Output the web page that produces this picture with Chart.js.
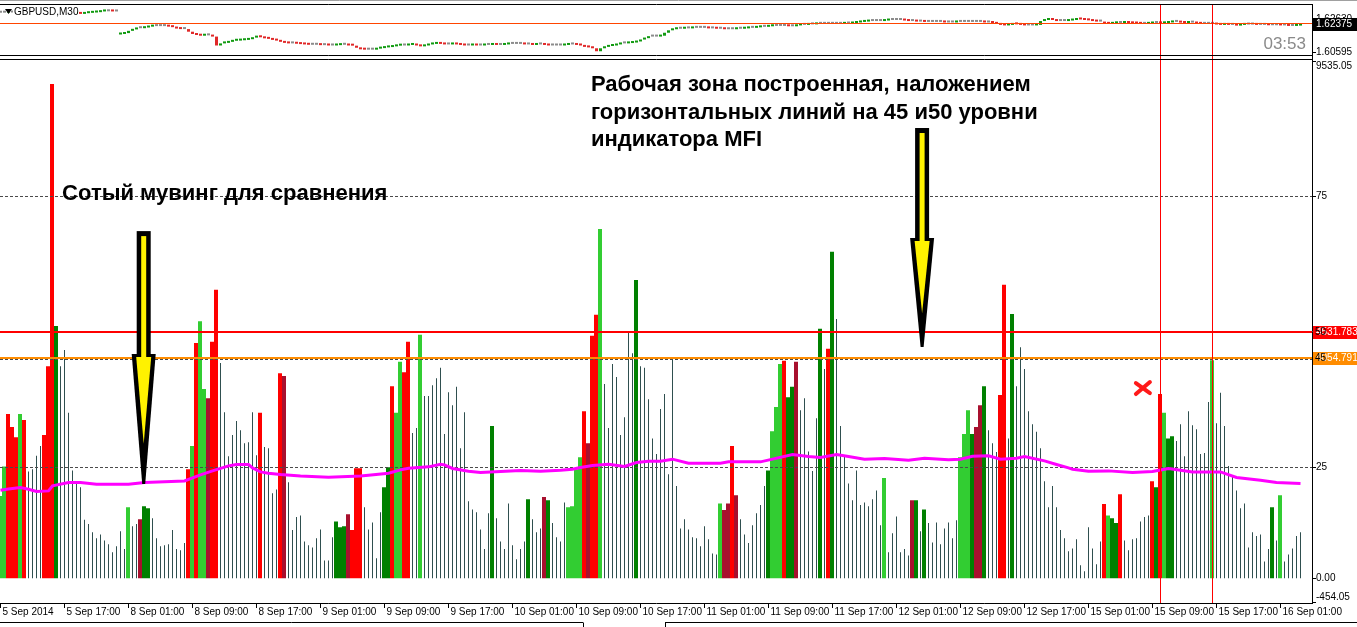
<!DOCTYPE html>
<html>
<head>
<meta charset="utf-8">
<script src="https://cdn.jsdelivr.net/npm/chart.js@4.4.1/dist/chart.umd.min.js"></script>
<style>
  html, body { margin: 0; padding: 0; background: #fff; width: 1357px; height: 627px; overflow: hidden; }
  canvas { position: absolute; left: 0; }
  #priceChart { top: 0; }
  #volChart { top: 59px; }
</style>
</head>
<body>
<canvas id="priceChart" width="1357" height="59"></canvas>
<canvas id="volChart" width="1357" height="568"></canvas>
<script>
// GBPUSD M30, 5 Sep 2014 09:00 .. 16 Sep 2014 ~03:00, one entry per bar

// tick volume per bar
const volumes = [
  1520, 2060, 3030, 2790, 2600, 3030, 2920, 1970, 2010, 2260,
  2440, 2640, 3910, 9110, 4650, 3910, 4210, 3050, 1990, 1750,
  1680, 1080, 1000, 850, 740, 810, 700, 630, 480, 590,
  870, 540, 1310, 960, 1000, 1090, 1330, 1290, 1110, 740,
  590, 610, 630, 890, 540, 520, 650, 2010, 2440, 4340,
  4740, 3490, 3320, 4360, 5320, 3970, 3060, 2250, 2640, 2900,
  2730, 2490, 2510, 3060, 2270, 3050, 2420, 2400, 1570, 1640,
  3780, 3730, 1770, 890, 1130, 1160, 680, 610, 570, 740,
  900, 330, 330, 760, 1050, 940, 960, 1180, 890, 2030,
  2030, 1310, 900, 1030, 370, 1220, 1680, 2050, 3540, 3050,
  3990, 3800, 4360, 2680, 2770, 4490, 3360, 3360, 3560, 3690,
  3880, 2660, 3430, 3190, 3530, 2400, 3060, 1420, 1270, 1220,
  900, 540, 1200, 2810, 1110, 680, 540, 1380, 610, 350,
  540, 680, 1460, 1090, 850, 920, 1500, 1440, 1020, 760,
  680, 1400, 1310, 1330, 2010, 2230, 3080, 2490, 4470, 4860,
  6440, 3580, 2770, 3950, 3710, 2640, 2970, 4560, 4150, 5500,
  3910, 3880, 3300, 2580, 2290, 3120, 3400, 1920, 4060, 1700,
  920, 1090, 900, 760, 740, 590, 960, 720, 460, 440,
  1380, 1260, 1380, 2440, 1530, 1090, 810, 650, 980, 1200,
  1350, 1700, 1990, 2710, 3160, 3950, 4010, 3340, 3530, 3990,
  3100, 3320, 2340, 1980, 2950, 4600, 3860, 4230, 6020, 4780,
  2810, 2250, 1750, 1440, 1990, 1350, 1400, 1330, 1460, 1620,
  980, 1850, 480, 830, 1140, 480, 540, 420, 1440, 1440,
  870, 1270, 1020, 660, 1030, 630, 920, 1030, 740, 1070,
  2230, 2660, 3100, 2660, 2790, 3190, 3540, 2730, 2490, 2330,
  3380, 5410, 2580, 4870, 3540, 4260, 3860, 3080, 2840, 2700,
  2400, 1790, 1310, 1700, 1310, 890, 740, 500, 550, 720,
  240, 130, 940, 550, 260, 680, 1370, 1160, 1110, 1020,
  1550, 700, 520, 720, 740, 1050, 1130, 1160, 1790, 1680,
  3400, 3050, 2580, 2620, 2530, 2840, 2250, 3080, 2820, 2750,
  2290, 2310, 3250, 4020, 2860, 3420, 2810, 2070, 1880, 1620,
  1290, 1380, 570, 850, 780, 810, 310, 540, 1310, 700,
  1530, 310, 440, 550, 780, 850
];

// bar state: n = thin, R = red, D = dark red, L = light green, G = green
const barState = (
  "LLRRRLRnnn" + "nRRRGnnnnn" + "nnnnnnnnnn" + "nnLnnDGGnn" + "nnnnnnnRLR" +
  "LLDRRnnnnn" + "nnnnnRnnnn" + "RDnnnnnnnn" + "nnnnGGGDRR" + "RnnnnnGGRL" +
  "LRRnnLnnnn" + "nnnnnnnnnn" + "nnnGnnnnnn" + "nnGnnnDGnn" + "nnLLLLRDRR" +
  "LnnnnnnnnG" + "nnnnnnnnnn" + "nnnnnnnnnn" + "LDDRDnnnnn" + "nnGLLLRGGD" +
  "nnnnnGnRGn" + "nnnnnnnnnn" + "nLnnnnnnDG" + "nGnnnnnnnn" + "LLLGDDGnnn" +
  "RRnGnnnnnn" + "nnnnnnnnnn" + "nnnnnnRLGG" + "RnnnnnnnRG" + "RLGGnnnnnn" +
  "nnnLnnnnnn" + "nnnnnnnnGn" + "Lnnnnn"
).split("");

// 100-period moving average of volume, read at these bars
const maBars = [0, 2, 5, 7, 9, 12, 13, 17, 20, 24, 32, 36, 46, 50, 53, 57, 59, 62, 63, 65,
  67, 70, 75, 82, 90, 92, 97, 100, 102, 107, 110, 111, 113, 117, 120, 125, 130, 135, 140, 143,
  145, 148, 152, 156, 159, 162, 165, 168, 172, 180, 182, 190, 193, 198, 202, 205, 209, 212, 216, 221,
  227, 231, 237, 240, 243, 247, 250, 254, 256, 261, 264, 267, 268, 272, 277, 283, 288, 292, 298, 305,
  309, 315, 319, 325];
const maValues = [1625, 1648, 1674, 1643, 1600, 1612, 1704, 1767, 1767, 1735, 1735, 1767, 1796, 1907, 1981, 2073, 2099, 2099, 2036, 1962,
  1938, 1914, 1888, 1864, 1888, 1901, 1938, 1999, 2031, 2055, 2104, 2092, 2025, 1975, 1951, 1970, 1988, 1975, 1994, 2012,
  2044, 2080, 2104, 2062, 2136, 2160, 2160, 2197, 2123, 2123, 2147, 2147, 2197, 2283, 2247, 2228, 2283, 2247, 2197, 2210,
  2178, 2215, 2184, 2197, 2252, 2258, 2197, 2215, 2247, 2165, 2099, 2036, 2012, 1975, 1981, 1951, 1970, 2025, 1962, 1962,
  1859, 1809, 1767, 1748];

// close prices per bar
const closes = [
  1.6302, 1.6302, 1.6303, 1.6303, 1.6302, 1.6301, 1.6302, 1.6303, 1.6302, 1.6301,
  1.6299, 1.6299, 1.6301, 1.6302, 1.6301, 1.6299, 1.6297, 1.6296, 1.6296, 1.6297,
  1.6295, 1.6299, 1.6301, 1.6303, 1.6305, 1.6309, 1.6310, 1.6310, 1.6309, 1.6309,
  1.6180, 1.6185, 1.6198, 1.6206, 1.6213, 1.6213, 1.6217, 1.6222, 1.6225, 1.6225,
  1.6225, 1.6225, 1.6222, 1.6219, 1.6211, 1.6208, 1.6208, 1.6193, 1.6180, 1.6174,
  1.6170, 1.6172, 1.6172, 1.6165, 1.6114, 1.6126, 1.6129, 1.6135, 1.6141, 1.6142,
  1.6144, 1.6146, 1.6150, 1.6159, 1.6167, 1.6161, 1.6155, 1.6152, 1.6146, 1.6142,
  1.6135, 1.6129, 1.6126, 1.6126, 1.6124, 1.6122, 1.6120, 1.6118, 1.6118, 1.6118,
  1.6116, 1.6116, 1.6114, 1.6114, 1.6116, 1.6118, 1.6118, 1.6114, 1.6113, 1.6101,
  1.6092, 1.6090, 1.6090, 1.6090, 1.6096, 1.6099, 1.6103, 1.6105, 1.6109, 1.6113,
  1.6114, 1.6114, 1.6117, 1.6120, 1.6114, 1.6109, 1.6114, 1.6120, 1.6123, 1.6126,
  1.6123, 1.6120, 1.6120, 1.6123, 1.6120, 1.6117, 1.6114, 1.6114, 1.6117, 1.6114,
  1.6114, 1.6117, 1.6117, 1.6120, 1.6117, 1.6117, 1.6120, 1.6123, 1.6123, 1.6123,
  1.6123, 1.6120, 1.6120, 1.6117, 1.6120, 1.6120, 1.6117, 1.6114, 1.6114, 1.6114,
  1.6114, 1.6117, 1.6120, 1.6120, 1.6117, 1.6114, 1.6106, 1.6103, 1.6098, 1.6081,
  1.6098, 1.6106, 1.6111, 1.6114, 1.6120, 1.6126, 1.6126, 1.6128, 1.6131, 1.6137,
  1.6148, 1.6156, 1.6165, 1.6165, 1.6165, 1.6170, 1.6187, 1.6201, 1.6207, 1.6210,
  1.6210, 1.6212, 1.6212, 1.6215, 1.6215, 1.6215, 1.6215, 1.6212, 1.6212, 1.6210,
  1.6210, 1.6207, 1.6207, 1.6207, 1.6210, 1.6210, 1.6212, 1.6215, 1.6215, 1.6218,
  1.6221, 1.6221, 1.6224, 1.6226, 1.6226, 1.6226, 1.6226, 1.6224, 1.6224, 1.6229,
  1.6232, 1.6232, 1.6235, 1.6235, 1.6238, 1.6238, 1.6238, 1.6238, 1.6238, 1.6238,
  1.6238, 1.6240, 1.6240, 1.6243, 1.6246, 1.6249, 1.6251, 1.6254, 1.6254, 1.6254,
  1.6254, 1.6257, 1.6260, 1.6260, 1.6260, 1.6260, 1.6257, 1.6254, 1.6254, 1.6251,
  1.6251, 1.6249, 1.6249, 1.6249, 1.6249, 1.6249, 1.6246, 1.6246, 1.6246, 1.6249,
  1.6249, 1.6249, 1.6249, 1.6249, 1.6249, 1.6249, 1.6246, 1.6246, 1.6243, 1.6238,
  1.6232, 1.6229, 1.6232, 1.6238, 1.6235, 1.6232, 1.6229, 1.6229, 1.6229, 1.6232,
  1.6254, 1.6260, 1.6262, 1.6260, 1.6254, 1.6254, 1.6254, 1.6257, 1.6260, 1.6267,
  1.6263, 1.6260, 1.6258, 1.6254, 1.6251, 1.6251, 1.6239, 1.6238, 1.6241, 1.6243,
  1.6243, 1.6245, 1.6243, 1.6241, 1.6240, 1.6238, 1.6238, 1.6240, 1.6243, 1.6243,
  1.6241, 1.6243, 1.6246, 1.6249, 1.6249, 1.6245, 1.6243, 1.6245, 1.6245, 1.6240,
  1.6238, 1.6238, 1.6238, 1.6238, 1.6234, 1.6232, 1.6234, 1.6232, 1.6232, 1.6228,
  1.6232, 1.6234, 1.6234, 1.6234, 1.6232, 1.6232, 1.6232, 1.6230, 1.6230, 1.6230,
  1.6229, 1.6229, 1.6226, 1.6226, 1.6228, 1.62375
];
// opening price after the weekend gap (first bar of 8 Sep)
const gapOpens = { 30: 1.6177 };

const xTickBars = [0, 16, 32, 48, 64, 80, 96, 112, 128, 144, 160, 176, 192, 208, 224, 240, 256, 272, 288, 304, 320];
const xTickLabels = ["5 Sep 2014", "5 Sep 17:00", "8 Sep 01:00", "8 Sep 09:00", "8 Sep 17:00", "9 Sep 01:00",
  "9 Sep 09:00", "9 Sep 17:00", "10 Sep 01:00", "10 Sep 09:00", "10 Sep 17:00", "11 Sep 01:00", "11 Sep 09:00",
  "11 Sep 17:00", "12 Sep 01:00", "12 Sep 09:00", "12 Sep 17:00", "15 Sep 01:00", "15 Sep 09:00", "15 Sep 17:00",
  "16 Sep 01:00"];

const volTickValues = [9535.05, 7037.8, 2043.2, 0, -454.05];
const volTickLabels = ["9535.05", "75", "25", "0.00", "-454.05"];
const levelValues = [7037.8, 4540.5, 4041.0, 2043.2]; // MFI 75 / 50 / 45 / 25
const hLineValues = [4531.783, 4054.791];
const hLineLabels = ["4531.783", "4054.791"];
const hLineLevels = ["50", "45"];
const vLineBars = [290, 303];

const priceTickValues = [1.6263, 1.60595];
const priceTickLabels = ["1.62630", "1.60595"];
const bidPrice = 1.62375;

// annotations (bar position, values)
const arrowBars = [35.8, 230.4];
const arrowTop = [6400, 8300];
const arrowHead = [4135, 6273];
const arrowTip = [1740, 4264];
const crossMark = { bar: 285.6, value: 3508 };
const noteLeft = { bar: 15.4, values: [7084], lines: ["Сотый мувинг для сравнения"] };
const noteRight = { bar: 147.6, values: [9093, 8577, 8079], lines: [
  "Рабочая зона построенная, наложением",
  "горизонтальных линий на 45 и50 уровни",
  "индикатора MFI"] };

// ---------------------------------------------------------------

const stateColors = { R: "#ff0000", D: "#a8102e", L: "#32cd32", G: "#008000", n: "#2f4f4f" };
const LABEL_FONT = '10px "Liberation Sans", Arial, sans-serif';

function pointsFor(code) {
  const pts = [];
  volumes.forEach((v, i) => { if (barState[i] === code) pts.push({ x: i, y: v }); });
  return pts;
}

function hline(ctx, x0, x1, y) { ctx.beginPath(); ctx.moveTo(x0, y); ctx.lineTo(x1, y); ctx.stroke(); }
function vline(ctx, x, y0, y1) { ctx.beginPath(); ctx.moveTo(x, y0); ctx.lineTo(x, y1); ctx.stroke(); }

function drawArrow(ctx, cx, yTop, yHead, yTip) {
  ctx.fillStyle = "#000";
  ctx.fillRect(cx - 7, yTop, 14, yHead - yTop + 2);
  ctx.beginPath();
  ctx.moveTo(cx - 12, yHead);
  ctx.lineTo(cx + 12, yHead);
  ctx.lineTo(cx + 1.5, yTip);
  ctx.lineTo(cx - 1.5, yTip);
  ctx.closePath();
  ctx.fill();
  ctx.fillStyle = "#fff200";
  ctx.fillRect(cx - 2.5, yTop + 5, 5, yHead - yTop);
  ctx.beginPath();
  ctx.moveTo(cx - 7.5, yHead + 3);
  ctx.lineTo(cx + 7.5, yHead + 3);
  ctx.lineTo(cx, yHead + (yTip - yHead) * 0.69);
  ctx.closePath();
  ctx.fill();
}

const shiftedBars = [1, 2, 3, 4];

const volDecor = {
  id: "volDecor",
  beforeDatasetDraw(chart, args) {
    const { ctx, chartArea: a, scales: { y } } = chart;
    if (shiftedBars.includes(args.index)) {
      ctx.save();
      ctx.translate(-0.5, 0);
    }
    if (args.index === 0) {
      ctx.save();
      ctx.strokeStyle = "#4a4a4a";
      ctx.lineWidth = 1;
      ctx.setLineDash([3, 2]);
      levelValues.forEach(v => hline(ctx, a.left, a.right, Math.floor(y.getPixelForValue(v)) + 0.5));
      ctx.restore();
    }
  },
  afterDatasetDraw(chart, args) {
    if (shiftedBars.includes(args.index)) chart.ctx.restore();
  },
  afterDatasetsDraw(chart) {
    const { ctx, chartArea: a, scales: { x, y } } = chart;
    ctx.save();
    ctx.lineWidth = 2;
    ["#ff0000", "#ff8c00"].forEach((c, i) => {
      ctx.strokeStyle = c;
      hline(ctx, a.left, a.right, Math.round(y.getPixelForValue(hLineValues[i])));
    });
    ctx.lineWidth = 1;
    ctx.strokeStyle = "#ff0000";
    vLineBars.forEach(b => vline(ctx, Math.floor(x.getPixelForValue(b)) + 0.5, 0, a.bottom));

    arrowBars.forEach((b, i) => {
      drawArrow(ctx, x.getPixelForValue(b), y.getPixelForValue(arrowTop[i]),
        y.getPixelForValue(arrowHead[i]), y.getPixelForValue(arrowTip[i]));
    });

    const cx = x.getPixelForValue(crossMark.bar), cy = y.getPixelForValue(crossMark.value);
    ctx.strokeStyle = "#ff1a1a";
    ctx.lineWidth = 4;
    ctx.lineCap = "round";
    ctx.beginPath();
    ctx.moveTo(cx - 7, cy - 5); ctx.lineTo(cx + 7, cy + 5);
    ctx.moveTo(cx + 7, cy - 6); ctx.lineTo(cx - 7, cy + 6);
    ctx.stroke();

    ctx.fillStyle = "#000";
    ctx.font = 'bold 22px "Liberation Sans", Arial, sans-serif';
    ctx.textBaseline = "middle";
    ctx.textAlign = "left";
    [noteLeft, noteRight].forEach(n => {
      n.lines.forEach((t, i) => ctx.fillText(t, x.getPixelForValue(n.bar), y.getPixelForValue(n.values[i])));
    });
    ctx.restore();
  },
  afterDraw(chart) {
    const { ctx, chartArea: a, scales: { x, y } } = chart;
    ctx.save();
    ctx.strokeStyle = "#000";
    ctx.lineWidth = 1;
    hline(ctx, 0, a.right + 1, a.top - 1.5);
    hline(ctx, 0, a.right + 1, a.bottom + 0.5);
    vline(ctx, a.right + 0.5, 0, a.bottom + 1);

    ctx.font = LABEL_FONT;
    ctx.fillStyle = "#000";
    ctx.textBaseline = "middle";
    ctx.textAlign = "left";
    volTickValues.forEach((v, i) => {
      const py = y.getPixelForValue(v);
      hline(ctx, a.right + 1, a.right + 4, Math.min(Math.floor(py), a.bottom - 1) + 0.5);
      ctx.fillText(volTickLabels[i], a.right + 4, Math.min(Math.max(py, a.top + 5), a.bottom - 6));
    });

    ["#ff0000", "#ff8c00"].forEach((c, i) => {
      const py = Math.round(y.getPixelForValue(hLineValues[i]));
      ctx.fillStyle = c;
      ctx.fillRect(a.right + 1, py - 6, chart.width - a.right - 1, 13);
      ctx.fillStyle = "#fff";
      ctx.fillText(hLineLabels[i], a.right + 4, py + 0.5);
      ctx.fillStyle = "#000";
      ctx.fillText(hLineLevels[i], a.right + 3, py + 0.5);
    });

    ctx.fillStyle = "#000";
    xTickBars.forEach((b, i) => {
      const px = Math.floor(x.getPixelForValue(b)) + 0.5;
      vline(ctx, px, a.bottom + 1, a.bottom + 5);
      ctx.fillText(xTickLabels[i], px + 2, a.bottom + 9.5);
    });

    const by = chart.height - 4.5;
    hline(ctx, 0, 583, by);
    hline(ctx, 665, chart.width, by);
    vline(ctx, 583.5, by, chart.height);
    vline(ctx, 665.5, by, chart.height);
    ctx.restore();
  }
};

const priceDecor = {
  id: "priceDecor",
  afterDatasetsDraw(chart) {
    const { ctx, chartArea: a, scales: { x, y } } = chart;
    ctx.save();
    ctx.lineWidth = 1;
    ctx.strokeStyle = "#ff4500";
    hline(ctx, a.left, a.right, Math.floor(y.getPixelForValue(bidPrice)) + 0.5);
    ctx.strokeStyle = "#ff0000";
    vLineBars.forEach(b => vline(ctx, Math.floor(x.getPixelForValue(b)) + 0.5, a.top, chart.height));
    ctx.restore();
  },
  afterDraw(chart) {
    const { ctx, chartArea: a, scales: { y } } = chart;
    ctx.save();
    ctx.strokeStyle = "#a0a0a0";
    ctx.lineWidth = 1;
    hline(ctx, 0, chart.width, 0.5);
    ctx.strokeStyle = "#000";
    hline(ctx, 0, a.right + 1, a.top - 0.5);
    hline(ctx, 0, a.right + 1, a.bottom + 0.5);
    vline(ctx, a.right + 0.5, a.top - 1, chart.height);

    // symbol caption
    ctx.fillStyle = "#fff";
    ctx.fillRect(13, 6, 64, 13);
    ctx.fillStyle = "#000";
    ctx.beginPath();
    ctx.moveTo(5, 9); ctx.lineTo(12, 9); ctx.lineTo(8.5, 14); ctx.closePath();
    ctx.fill();
    ctx.font = LABEL_FONT;
    ctx.textBaseline = "middle";
    ctx.textAlign = "left";
    ctx.fillText("GBPUSD,M30", 14, 12.5);

    priceTickValues.forEach((v, i) => {
      const py = y.getPixelForValue(v);
      const ly = Math.min(Math.max(py, a.top + 5), a.bottom - 3);
      hline(ctx, a.right + 1, a.right + 4, Math.floor(ly) + 0.5);
      ctx.fillText(priceTickLabels[i], a.right + 4, ly);
    });
    const bp = Math.round(y.getPixelForValue(bidPrice));
    ctx.fillStyle = "#000";
    ctx.fillRect(a.right + 1, bp - 6, chart.width - a.right - 1, 13);
    ctx.fillStyle = "#fff";
    ctx.fillText(bidPrice.toFixed(5), a.right + 4, bp + 0.5);

    ctx.fillStyle = "#8a8a8a";
    ctx.font = '17px "Liberation Sans", Arial, sans-serif';
    ctx.textAlign = "right";
    ctx.textBaseline = "alphabetic";
    ctx.fillText("03:53", 1306, 49);
    ctx.restore();
  }
};

// ---- price window (candle bodies) ----
const candleUp = [], candleDown = [], candleFlat = [];
closes.forEach((c, i) => {
  const o = gapOpens[i] !== undefined ? gapOpens[i] : (i === 0 ? c : closes[i - 1]);
  const p = { x: i, y: [o, c] };
  if (c > o + 1e-9) candleUp.push(p);
  else if (c < o - 1e-9) candleDown.push(p);
  else candleFlat.push(p);
});

const xScale = { type: "linear", min: -0.125, max: 327.875, offset: false, display: false };
const commonOpts = {
  responsive: false,
  animation: false,
  events: [],
  plugins: { legend: { display: false }, tooltip: { enabled: false } }
};

const candleSet = (data, color) => ({
  data, backgroundColor: color, barThickness: 3, grouped: false, minBarLength: 2, inflateAmount: 0
});

new Chart(document.getElementById("priceChart"), {
  type: "bar",
  data: {
    datasets: [
      candleSet(candleUp, "#119a11"),
      candleSet(candleDown, "#e02828"),
      candleSet(candleFlat, "#8c8c8c")
    ]
  },
  options: {
    ...commonOpts,
    layout: { padding: { left: 0, right: 45, top: 5, bottom: 4 } },
    scales: { x: { ...xScale }, y: { min: 1.60595, max: 1.6346, display: false } }
  },
  plugins: [priceDecor]
});

// ---- volume window ----
const barSet = (code, thickness) => ({
  data: pointsFor(code),
  backgroundColor: stateColors[code],
  barThickness: thickness,
  grouped: false,
  inflateAmount: 0
});

new Chart(document.getElementById("volChart"), {
  type: "bar",
  data: {
    datasets: [
      {
        type: "line",
        data: maBars.map((b, i) => ({ x: b, y: maValues[i] })),
        borderColor: "#ff00ff",
        borderWidth: 3,
        pointRadius: 0,
        tension: 0
      },
      barSet("R", 4),
      barSet("D", 4),
      barSet("L", 4),
      barSet("G", 4),
      barSet("n", 1)
    ]
  },
  options: {
    ...commonOpts,
    layout: { padding: { left: 0, right: 45, top: 2, bottom: 24 } },
    scales: { x: { ...xScale }, y: { min: -454.05, max: 9535.05, display: false } }
  },
  plugins: [volDecor]
});
</script>
</body>
</html>
